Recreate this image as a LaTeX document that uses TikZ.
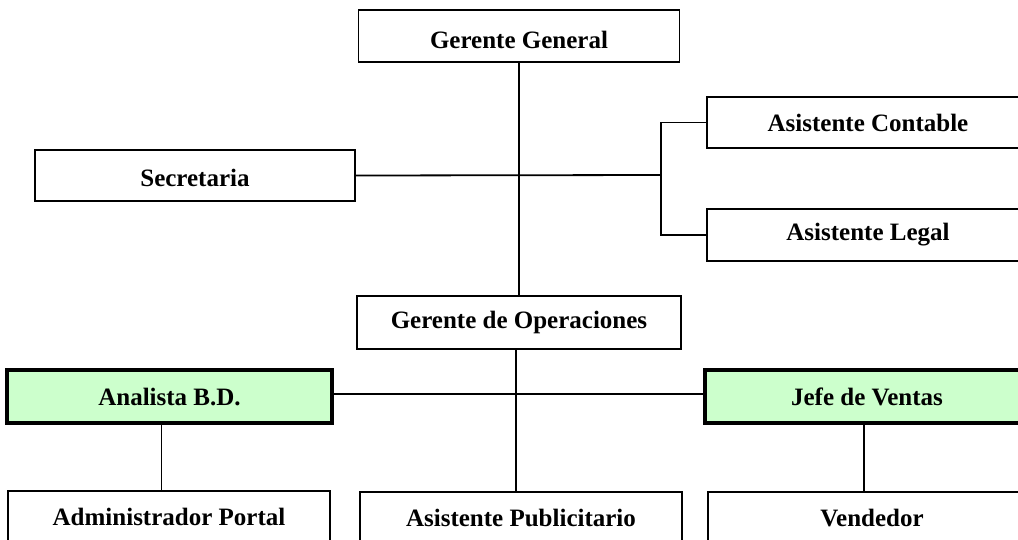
\documentclass[tikz,border=0pt]{standalone}
\usepackage{fontspec}
\setmainfont{Liberation Serif}
\definecolor{lightgreen}{RGB}{204,255,204}
\begin{document}
\begin{tikzpicture}[x=1pt,y=-1pt,
  box/.style={draw=black,line width=1.8pt,rectangle,inner sep=0pt,
    font=\fontsize{25}{30}\selectfont\bfseries},
  greenbox/.style={box,fill=lightgreen,line width=3.5pt},
  link/.style={draw=black,line width=1.8pt}]
\useasboundingbox (0,0) rectangle (1018,539);
\clip (0,0) rectangle (1018,539);
\node[box,minimum width=321pt,minimum height=52pt,text height=25pt] (gg) at (519,36) {Gerente General};
\node[box,minimum width=320pt,minimum height=51pt,text height=22pt] (sec) at (195,175.5) {Secretaria};
\node[box,minimum width=322pt,minimum height=51pt] (ac) at (868,122.5) {Asistente Contable};
\node[box,minimum width=322pt,minimum height=52pt] (al) at (868,235) {Asistente Legal};
\node[box,minimum width=324pt,minimum height=53pt] (go) at (519,322.5) {Gerente de Operaciones};
\node[greenbox,minimum width=325pt,minimum height=53pt] (an) at (169.5,396.5) {Analista B.D.};
\node[greenbox,minimum width=324pt,minimum height=53pt] (jv) at (867,396.5) {Jefe de Ventas};
\node[box,minimum width=322pt,minimum height=52pt] (adp) at (169,517) {Administrador Portal};
\node[box,minimum width=322pt,minimum height=52pt] (ap) at (521,518) {Asistente Publicitario};
\node[box,minimum width=328pt,minimum height=52pt] (ve) at (872,518) {Vendedor};
\coordinate (br) at (661,175);
% connectors
\draw[link] (gg.south) -- (gg.south |- go.north);
\draw[link] (sec.east) -- (br);
\draw[link] (ac.west) -- (ac.west -| br) -- (al.west -| br) -- (al.west);
\draw[link] ([xshift=-3pt]go.south) -- ([xshift=-3pt]go.south |- ap.north);
\draw[link] (an.east |- 0,394) -- (jv.west |- 0,394);
\draw[link] ([xshift=-8pt]an.south) -- ([xshift=-8pt]an.south |- adp.north);
\draw[link] ([xshift=-3pt]jv.south) -- ([xshift=-3pt]jv.south |- ve.north);
\end{tikzpicture}
\end{document}
